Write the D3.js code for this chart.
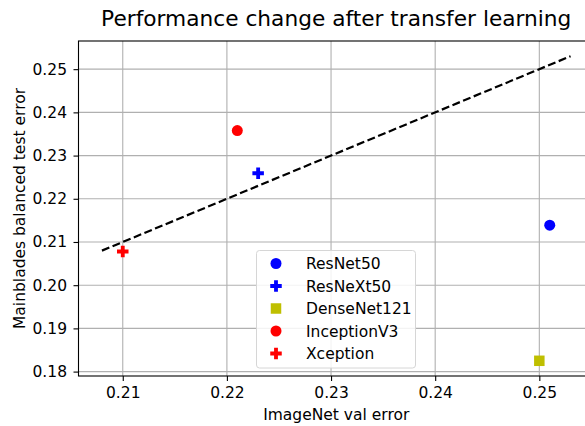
<!DOCTYPE html>
<html>
<head>
<meta charset="utf-8">
<script src="https://cdn.jsdelivr.net/npm/d3@7"></script>
<style>
  html, body { margin: 0; padding: 0; background: #fff; }
  svg { display: block; font-family: "DejaVu Sans", sans-serif; }
</style>
</head>
<body>
<svg id="chart" width="585" height="426"></svg>
<script>
// Model results: ImageNet validation error vs. downstream balanced test error
const models = ["ResNet50", "ResNeXt50", "DenseNet121", "InceptionV3", "Xception"];
const imagenetError = [0.251, 0.223, 0.250, 0.221, 0.210];
const testError = [0.2139, 0.2259, 0.1825, 0.2358, 0.2078];
const markerShapes = ["circle", "plus", "square", "circle", "plus"];
const markerColors = ["#0000ff", "#0000ff", "#bfbf00", "#ff0000", "#ff0000"];

// Reference diagonal (y = x)
const refLineX = [0.208, 0.253];
const refLineY = [0.208, 0.253];

const xTicks = [0.21, 0.22, 0.23, 0.24, 0.25];
const yTicks = [0.18, 0.19, 0.20, 0.21, 0.22, 0.23, 0.24, 0.25];

const svg = d3.select("#chart");
const plot = { left: 78.5, right: 594, top: 41, bottom: 376 };
const labelSize = "15.5px";

const x = d3.scaleLinear().domain([0.20575, 0.25525]).range([plot.left, plot.right]);
const y = d3.scaleLinear().domain([0.17898, 0.25652]).range([plot.bottom, plot.top]);

// Grid
const grid = svg.append("g").attr("stroke", "#b0b0b0").attr("stroke-width", 1.1);
grid.selectAll("line.gx").data(xTicks).join("line")
  .attr("x1", d => x(d)).attr("x2", d => x(d))
  .attr("y1", plot.top).attr("y2", plot.bottom);
grid.selectAll("line.gy").data(yTicks).join("line")
  .attr("x1", plot.left).attr("x2", plot.right)
  .attr("y1", d => y(d)).attr("y2", d => y(d));

// Dashed reference line
svg.append("line")
  .attr("x1", x(refLineX[0])).attr("y1", y(refLineY[0]))
  .attr("x2", x(refLineX[1])).attr("y2", y(refLineY[1]))
  .attr("stroke", "#000").attr("stroke-width", 2.2)
  .attr("stroke-dasharray", "8,3.5");

// Marker path generator
function markerPath(shape, size) {
  const h = size / 2;
  if (shape === "circle") {
    return `M${-h},0A${h},${h} 0 1,0 ${h},0A${h},${h} 0 1,0 ${-h},0Z`;
  }
  if (shape === "square") {
    return `M${-h},${-h}H${h}V${h}H${-h}Z`;
  }
  // filled plus
  const t = size / 6;
  return `M${-t},${-h}H${t}V${-t}H${h}V${t}H${t}V${h}H${-t}V${t}H${-h}V${-t}H${-t}Z`;
}
const markerSize = { circle: 11, square: 10.5, plus: 11.5 };

// Points
svg.append("g").selectAll("path").data(models).join("path")
  .attr("transform", (d, i) => `translate(${x(imagenetError[i])},${y(testError[i])})`)
  .attr("d", (d, i) => markerPath(markerShapes[i], markerSize[markerShapes[i]]))
  .attr("fill", (d, i) => markerColors[i]);

// Spines
svg.append("rect")
  .attr("x", plot.left).attr("y", plot.top)
  .attr("width", plot.right - plot.left).attr("height", plot.bottom - plot.top)
  .attr("fill", "none").attr("stroke", "#000").attr("stroke-width", 1.1);

// Axes (ticks + labels)
const xAxis = d3.axisBottom(x).tickValues(xTicks).tickFormat(d3.format(".2f")).tickSize(5).tickPadding(6);
const yAxis = d3.axisLeft(y).tickValues(yTicks).tickFormat(d3.format(".2f")).tickSize(5).tickPadding(6.5);

const gx = svg.append("g").attr("transform", `translate(0,${plot.bottom})`).call(xAxis);
const gy = svg.append("g").attr("transform", `translate(${plot.left},0)`).call(yAxis);
[gx, gy].forEach(g => {
  g.attr("font-size", null).attr("font-family", null);
  g.select(".domain").remove();
  g.selectAll(".tick line").attr("stroke", "#000").attr("stroke-width", 1.1);
  g.selectAll(".tick text").attr("fill", "#000").style("font-size", labelSize);
});

// Axis titles
svg.append("text")
  .attr("x", (plot.left + plot.right) / 2).attr("y", 420)
  .attr("text-anchor", "middle").style("font-size", labelSize)
  .text("ImageNet val error");

svg.append("text")
  .attr("transform", `translate(25,${(plot.top + plot.bottom) / 2}) rotate(-90)`)
  .attr("text-anchor", "middle").style("font-size", labelSize)
  .text("Mainblades balanced test error");

// Title
svg.append("text")
  .attr("x", (plot.left + plot.right) / 2).attr("y", 26)
  .attr("text-anchor", "middle").style("font-size", "21.7px")
  .text("Performance change after transfer learning");

// Legend
const legend = svg.append("g");
legend.append("rect")
  .attr("x", 256.5).attr("y", 250.5).attr("width", 159).attr("height", 117.5)
  .attr("rx", 3).attr("fill", "#fff").attr("fill-opacity", 0.85)
  .attr("stroke", "#d6d6d6").attr("stroke-width", 1);
const rows = legend.selectAll("g.row").data(models).join("g")
  .attr("transform", (d, i) => `translate(276,${263.5 + i * 22.5})`);
rows.append("path")
  .attr("d", (d, i) => markerPath(markerShapes[i], markerSize[markerShapes[i]]))
  .attr("fill", (d, i) => markerColors[i]);
rows.append("text")
  .attr("x", 30).attr("dy", "0.36em")
  .style("font-size", labelSize)
  .text(d => d);
</script>
</body>
</html>
